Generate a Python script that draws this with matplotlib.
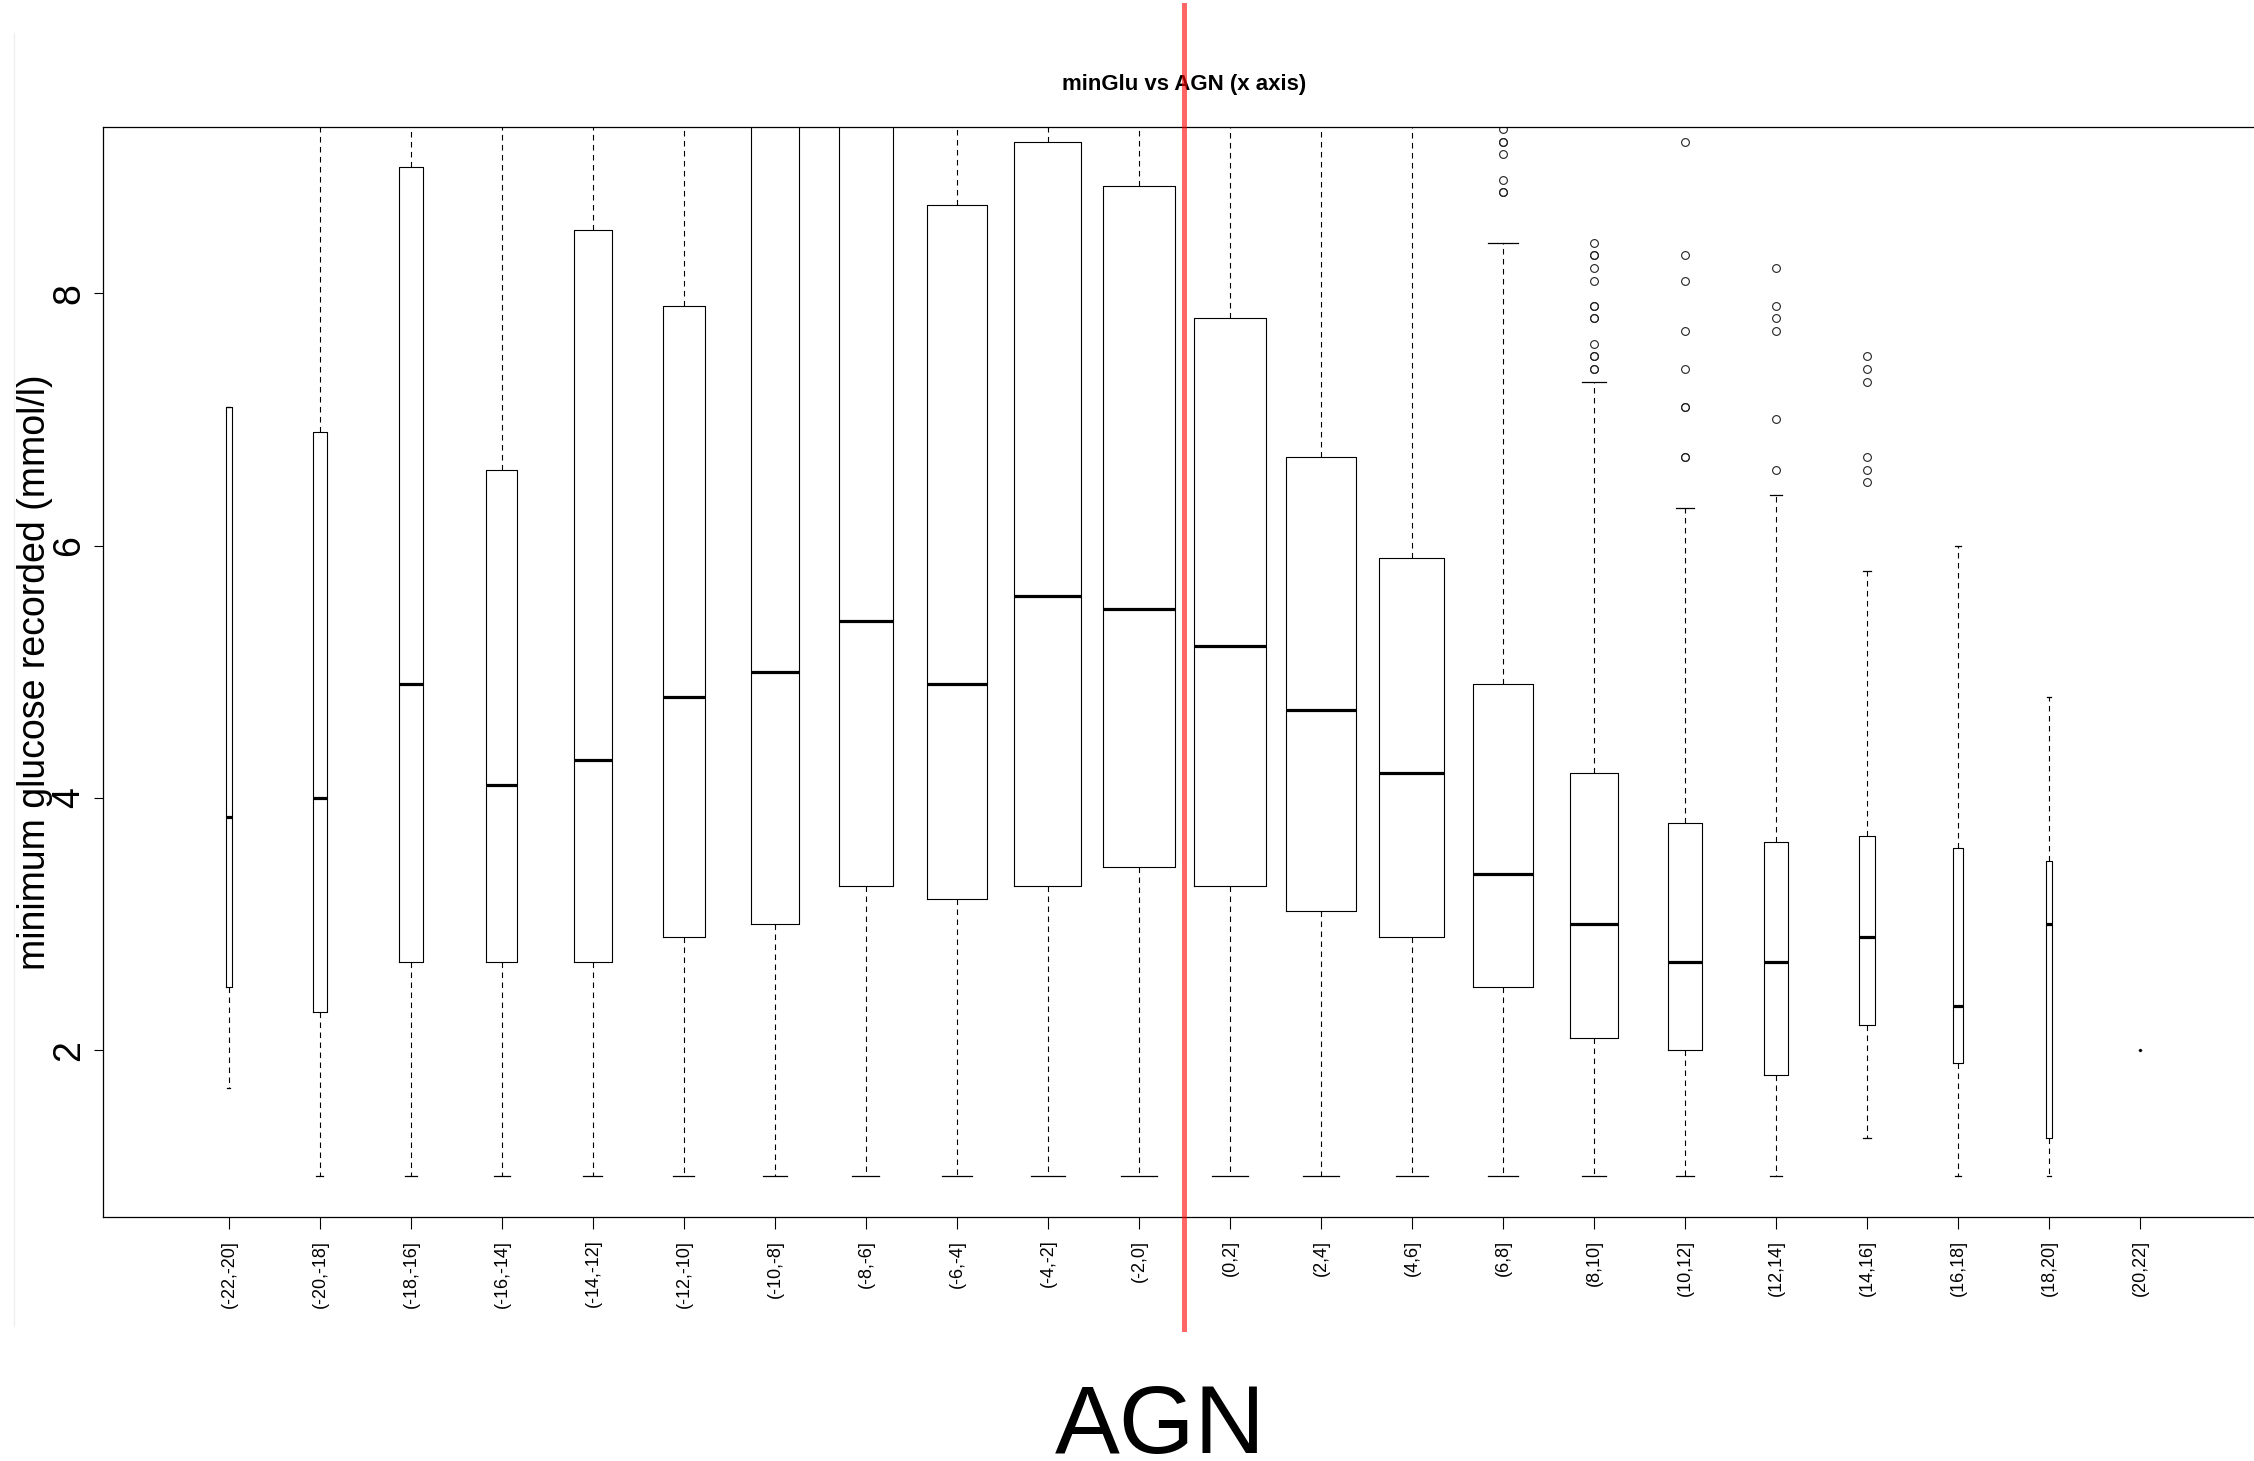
import matplotlib
matplotlib.use('Agg')
from matplotlib import pyplot as plt
from matplotlib.lines import Line2D
import matplotlib.transforms as mtransforms
import numpy as np

plt.rcParams['font.family'] = ['Liberation Sans', 'DejaVu Sans']

# AGN bins (x axis)
bins = ["(-22,-20]", "(-20,-18]", "(-18,-16]", "(-16,-14]", "(-14,-12]", "(-12,-10]",
        "(-10,-8]", "(-8,-6]", "(-6,-4]", "(-4,-2]", "(-2,0]", "(0,2]", "(2,4]", "(4,6]",
        "(6,8]", "(8,10]", "(10,12]", "(12,14]", "(14,16]", "(16,18]", "(18,20]", "(20,22]"]

# approximate group sizes (box widths are sqrt(n), like R varwidth=TRUE)
counts = [7, 35, 110, 180, 268, 336, 437, 554, 685, 847, 961,
          1000, 937, 798, 685, 428, 222, 104, 49, 21, 9, 1]

# box stats (values above ~9.3 run off the top)
q1 = [2.5, 2.3, 2.7, 2.7, 2.7, 2.9, 3.0, 3.3, 3.2, 3.3, 3.45,
      3.3, 3.1, 2.9, 2.5, 2.1, 2.0, 1.8, 2.2, 1.9, 1.3, 2.0]
medians = [3.85, 4.0, 4.9, 4.1, 4.3, 4.8, 5.0, 5.4, 4.9, 5.6, 5.5,
           5.2, 4.7, 4.2, 3.4, 3.0, 2.7, 2.7, 2.9, 2.35, 3.0, 2.0]
q3 = [7.1, 6.9, 9.0, 6.6, 8.5, 7.9, 10.2, 10.5, 8.7, 9.2, 8.85,
      7.8, 6.7, 5.9, 4.9, 4.2, 3.8, 3.65, 3.7, 3.6, 3.5, 2.0]
whis_lo = [1.7, 1.0, 1.0, 1.0, 1.0, 1.0, 1.0, 1.0, 1.0, 1.0, 1.0,
           1.0, 1.0, 1.0, 1.0, 1.0, 1.0, 1.0, 1.3, 1.0, 1.0, 2.0]
whis_hi = [7.1, 12.0, 12.0, 12.0, 12.0, 12.0, 12.0, 12.0, 12.0, 12.0, 12.0,
           12.0, 12.0, 12.0, 8.4, 7.3, 6.3, 6.4, 5.8, 6.0, 4.8, 2.0]
outliers = {
    "(6,8]": [8.8, 8.8, 8.9, 9.1, 9.2, 9.2, 9.3],
    "(8,10]": [7.4, 7.4, 7.5, 7.5, 7.6, 7.8, 7.8, 7.9, 7.9, 8.1, 8.2, 8.3, 8.3, 8.4],
    "(10,12]": [6.7, 6.7, 7.1, 7.1, 7.4, 7.7, 8.1, 8.3, 9.2],
    "(12,14]": [6.6, 7.0, 7.7, 7.8, 7.9, 8.2],
    "(14,16]": [6.5, 6.6, 6.7, 7.3, 7.4, 7.5],
}
yticks = [2, 4, 6, 8]

stats = []
for i, b in enumerate(bins):
    stats.append({'label': b, 'q1': q1[i], 'med': medians[i], 'q3': q3[i],
                  'whislo': whis_lo[i], 'whishi': whis_hi[i],
                  'fliers': outliers.get(b, [])})

n = np.array(counts, dtype=float)
widths = 0.8 * np.sqrt(n / n.max())
positions = np.arange(1, len(bins) + 1)

fig = plt.figure(figsize=(22.54, 14.61), dpi=100)
ax = fig.add_axes([0.04583, 0.1672, 0.9593, 0.7461])

ax.bxp(stats, positions=positions, widths=widths,
       boxprops=dict(color='black', linewidth=0.8),
       medianprops=dict(color='black', linewidth=2.3, solid_capstyle='butt'),
       whiskerprops=dict(color='black', linewidth=0.8, linestyle=(0, (5, 4))),
       capprops=dict(color='black', linewidth=0.9),
       flierprops=dict(marker='o', markersize=5.6, markerfacecolor='none',
                       markeredgecolor='#222222', markeredgewidth=0.8, linestyle='none'))

ax.set_xlim(0.5 - 0.04 * len(bins), len(bins) + 0.5 + 0.04 * len(bins))
ax.set_ylim(1 - 0.04 * 8, 9 + 0.04 * 8)

ax.set_xticks(positions)
ax.set_xticklabels(bins, rotation=90, fontsize=13)
ax.set_yticks(yticks)
ax.set_yticklabels([str(t) for t in yticks], rotation=90, fontsize=27, va='center')
ax.tick_params(axis='x', length=8.5, width=0.8, pad=8)
ax.tick_params(axis='y', length=6.5, width=0.8, pad=5)

for s in ['left', 'top', 'bottom']:
    ax.spines[s].set_linewidth(0.9)
ax.spines['right'].set_visible(False)

ax.set_title('minGlu vs AGN (x axis)', fontsize=16, fontweight='bold', pad=26.4)
ax.set_ylabel('minimum glucose recorded (mmol/l)', fontsize=27,
              ha='center', va='baseline', rotation_mode='anchor')
ax.yaxis.set_label_coords(-0.027, 0.5)

# red divider at AGN = 0
trans = mtransforms.blended_transform_factory(ax.transData, ax.transAxes)
ax.plot([11.49, 11.49], [-0.103, 1.112], transform=trans, color='red',
        alpha=0.6, linewidth=3.6, clip_on=False, zorder=5)

fig.text(0.5146, 0.0053, 'AGN', fontsize=70, ha='center', va='baseline')

# faint screenshot edge on the left
fig.add_artist(Line2D([14 / 2254, 14 / 2254], [1 - 33 / 1461, 1 - 1326 / 1461],
                      color='#f0f0f0', linewidth=1))

fig.savefig('out.png', dpi=100, facecolor='white')
